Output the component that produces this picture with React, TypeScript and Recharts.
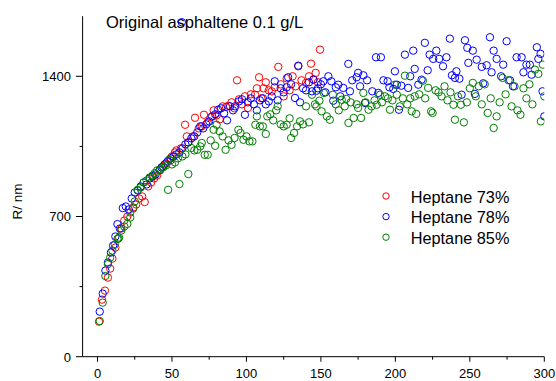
import React from 'react';
import { ScatterChart, Scatter, XAxis, YAxis, Customized } from 'recharts';

const seriesNames = ['Heptane 73%', 'Heptane 78%', 'Heptane 85%'];
const seriesColors = ['#FF0000', '#0000FF', '#008000'];
const titleText = 'Original asphaltene 0.1 g/L';
const yAxisTitle = 'R/ nm';

const xTicks = [0, 25, 50, 75, 100, 125, 150, 175, 200, 225, 250, 275, 300];
const yTicks = [0, 350, 700, 1050, 1400];

const red73: [number, number][] = [
  [1, 175], [3, 285], [5, 330], [7, 395], [8.5, 440], [10, 490], [12, 545], [14, 590], [16, 640], [18, 680],
  [20, 700], [22, 720], [24, 745], [26, 760], [28, 790], [30, 800], [31.7, 772], [34, 850], [36, 870], [38, 890],
  [40, 905], [42, 930], [44, 950], [46, 965], [49, 980], [50, 1000], [52, 1020], [53, 1030], [56, 1040], [58.8, 1158],
  [60, 1100], [61, 1070], [64, 1100], [65.5, 1193], [68, 1140], [70, 1150], [71.5, 1208], [74, 1170], [76, 1195], [78, 1230],
  [80, 1205], [82, 1185], [84, 1250], [86.3, 1247], [87.8, 1253], [90, 1270], [92, 1240], [93.7, 1380], [95, 1285], [97, 1260],
  [99, 1300], [101, 1242], [103, 1310], [105.8, 1308], [107, 1340], [108.5, 1395], [110, 1290], [111.5, 1340], [113, 1370], [115, 1330],
  [117, 1325], [119, 1345], [121.4, 1447], [123, 1360], [125, 1300], [127, 1390], [129, 1330], [131, 1400], [133, 1350], [134.8, 1450],
  [137, 1380], [140, 1367], [142, 1400], [143.4, 1463], [145, 1385], [146.5, 1417], [148, 1370], [149.4, 1533],
];

const blue78: [number, number][] = [
  [1.5, 225], [3.5, 315], [5.3, 430], [7, 470], [9, 520], [10.5, 555], [12, 600], [13.4, 662], [15, 640], [17, 742],
  [19, 750], [21, 735], [23, 790], [25, 820], [27, 830], [29, 850], [31, 870], [33, 860], [35, 890], [37, 900],
  [39, 910], [41.8, 933], [43, 945], [45, 960], [47, 975], [49, 990], [51, 1000], [53, 1010], [55, 1020], [56.6, 1670],
  [57, 1040], [59, 1060], [61, 1070], [63, 1090], [65, 1100], [67, 1120], [69, 1150], [71, 1140], [73, 1160], [75, 1175],
  [77, 1200], [79, 1210], [81, 1233], [83, 1240], [85, 1215], [87, 1180], [89, 1250], [91, 1230], [92.3, 1250], [95, 1275],
  [97, 1285], [99, 1208], [101, 1270], [103, 1290], [105, 1260], [107, 1230], [109, 1280], [111, 1290], [113, 1260], [115, 1275],
  [117, 1300], [119, 1375], [121, 1280], [123, 1340], [125, 1320], [127, 1345], [128, 1395], [130, 1360], [132.6, 1292], [134.8, 1453],
  [136, 1270], [138, 1340], [140, 1330], [142, 1370], [144, 1325], [145, 1383], [147, 1328], [148, 1340], [150, 1360], [151.6, 1375],
  [153, 1320], [155, 1400], [157, 1375], [158.3, 1278], [160, 1345], [161.7, 1358], [163, 1300], [165, 1342], [168.4, 1462], [169.5, 1325],
  [171, 1380], [174, 1395], [175, 1417], [176.3, 1350], [178.5, 1405], [179.6, 1267], [181, 1380], [184.5, 1325], [187, 1495], [188.5, 1317],
  [190.3, 1495], [192, 1380], [194.8, 1375], [196, 1345], [198.6, 1337], [199.7, 1425], [201, 1358], [202.4, 1233], [204, 1353], [206.4, 1508],
  [208.6, 1342], [210, 1400], [212, 1528], [213, 1437], [215.4, 1358], [217.6, 1383], [219.8, 1567], [221.7, 1430], [223, 1508], [225.4, 1487],
  [227.5, 1528], [229.4, 1487], [232, 1450], [234.3, 1495], [236.6, 1588], [238, 1405], [240, 1392], [241, 1425], [243, 1388], [244.5, 1308],
  [246.7, 1580], [248.3, 1542], [249, 1467], [252, 1528], [253.4, 1312], [254.6, 1483], [258, 1447], [259, 1365], [261.3, 1455], [263.5, 1595],
  [264.6, 1420], [266, 1528], [268, 1487], [271, 1400], [272.4, 1458], [274.7, 1575], [277, 1380], [279, 1350], [281.4, 1495], [284.8, 1495],
  [286, 1420], [288, 1458], [290.3, 1458], [291.5, 1408], [295, 1545], [296, 1487], [297.5, 1512], [298.8, 1325], [300, 1200],
];

const green85: [number, number][] = [
  [1.5, 178], [3.5, 270], [5.3, 403], [7, 462], [8.5, 495], [10, 530], [11.6, 560], [13.4, 588], [14.5, 595], [16, 630],
  [18, 650], [20, 663], [22, 695], [24, 740], [25, 775], [27, 833], [29, 845], [31, 870], [33, 880], [35, 895],
  [37, 905], [38.5, 917], [40, 930], [42, 935], [44, 945], [46, 955], [47.4, 833], [48, 983], [50, 960], [52, 970],
  [54, 990], [55, 862], [57, 1000], [59, 1010], [61, 912], [63, 1042], [65, 1030], [67, 1033], [69, 1050], [70, 1067],
  [72, 1008], [74, 1008], [76, 1080], [78, 1133], [79, 1053], [80, 1158], [82, 1125], [84, 1100], [86, 1033], [88, 1080],
  [90, 1058], [92, 1092], [94.6, 1133], [96, 1117], [98, 1083], [100, 1100], [102, 1075], [104, 1075], [106, 1158], [107, 1200],
  [109, 1150], [111, 1150], [113, 1112], [114, 1200], [116, 1210], [118, 1180], [120, 1230], [121, 1250], [123, 1160], [125, 1150],
  [127, 1158], [129, 1190], [130, 1092], [132, 1117], [134, 1150], [136, 1175], [138, 1160], [140, 1250], [142, 1170], [144, 1308],
  [146, 1260], [147, 1250], [149, 1278], [150.5, 1225], [152, 1317], [154, 1200], [156, 1183], [158, 1308], [160, 1260], [162, 1230],
  [164, 1283], [166, 1250], [167, 1287], [168.5, 1167], [170, 1270], [172, 1192], [174, 1260], [175, 1242], [177, 1192], [178.5, 1317],
  [180, 1270], [182, 1233], [184, 1250], [186, 1280], [187.5, 1258], [189.7, 1308], [191, 1270], [193, 1300], [195, 1290], [196.4, 1233],
  [198, 1280], [199.7, 1358], [201, 1308], [203, 1250], [205, 1290], [206.4, 1403], [208, 1260], [210, 1290], [211, 1225], [213, 1300],
  [214, 1212], [216, 1310], [218.5, 1378], [220, 1290], [222, 1342], [224, 1225], [225, 1217], [227, 1330], [229, 1320], [231, 1300],
  [233, 1350], [235, 1280], [237, 1320], [239, 1258], [240, 1183], [242, 1300], [244, 1258], [246, 1170], [248, 1270], [250, 1340],
  [252, 1367], [254, 1300], [256, 1350], [258, 1260], [260, 1360], [262, 1217], [264, 1290], [266, 1142], [268, 1200], [270, 1270],
  [272, 1392], [274, 1310], [276, 1380], [278, 1250], [280, 1350], [282, 1230], [284, 1208], [286, 1340], [288, 1290], [290, 1360],
  [292, 1260], [293.7, 1433], [296, 1412], [297.7, 1175], [299, 1458], [300, 1300],
];

const allSeries = [red73, blue78, green85];

const FONT = '"Liberation Sans", Arial, sans-serif';

const toPoints = (arr: [number, number][]) => arr.map(([x, y]) => ({ x, y }));

const makeShape = (color: string) => (props: any) => {
  const { cx, cy } = props;
  if (cx == null || cy == null) return <g />;
  return <circle cx={cx} cy={cy} r={3.7} fill="none" stroke={color} strokeWidth={1} />;
};

const XTick = (props: any) => {
  const { x, y, payload } = props;
  const v = payload.value;
  const major = v % 50 === 0;
  return (
    <g>
      <line x1={x} y1={y} x2={x} y2={y + (major ? 5 : 3)} stroke="#000" strokeWidth={1} />
      {major && (
        <text x={x} y={y + 21.3} textAnchor="middle" fontSize={13} fontFamily={FONT} fill="#000">
          {v}
        </text>
      )}
    </g>
  );
};

const YTick = (props: any) => {
  const { x, y, payload } = props;
  const v = payload.value;
  const major = v % 700 === 0;
  return (
    <g>
      <line x1={x - (major ? 6.7 : 3)} y1={y} x2={x} y2={y} stroke="#000" strokeWidth={1} />
      {major && (
        <text x={x - 11.6} y={y + 4.8} textAnchor="end" fontSize={13} fontFamily={FONT} fill="#000">
          {v}
        </text>
      )}
    </g>
  );
};

const Overlay = () => (
  <g>
    <text x={106} y={28} fontSize={16.5} fontFamily={FONT} fill="#000">{titleText}</text>
    <text
      x={22}
      y={201.5}
      transform="rotate(-90, 22, 201.5)"
      textAnchor="middle"
      fontSize={13.5}
      fontFamily={FONT}
      fill="#000"
    >
      {yAxisTitle}
    </text>
    {seriesNames.map((name, i) => (
      <g key={name}>
        <circle cx={386} cy={196 + i * 20.6} r={3.2} fill="none" stroke={seriesColors[i]} strokeWidth={1} />
        <text x={410.7} y={202.7 + i * 20.6} fontSize={16.3} fontFamily={FONT} fill="#000">{name}</text>
      </g>
    ))}
  </g>
);

export default function App() {
  return (
    <div style={{ position: 'absolute', left: 0, top: 0, width: 556, height: 381, overflow: 'hidden' }}>
      <ScatterChart width={556} height={381} margin={{ top: 16.2, right: 11.7, bottom: 0, left: 0 }}>
        <XAxis
          type="number"
          dataKey="x"
          domain={[-10, 300]}
          ticks={xTicks}
          interval={0}
          allowDataOverflow
          height={24.3}
          tickSize={0}
          tickMargin={0}
          tickLine={false}
          tick={<XTick />}
          axisLine={{ stroke: '#000', strokeWidth: 1 }}
        />
        <YAxis
          type="number"
          dataKey="y"
          domain={[0, 1700]}
          ticks={yTicks}
          interval={0}
          allowDataOverflow
          width={82.6}
          tickSize={0}
          tickMargin={0}
          tickLine={false}
          tick={<YTick />}
          axisLine={{ stroke: '#000', strokeWidth: 1 }}
        />
        {allSeries.map((s, i) => (
          <Scatter
            key={seriesNames[i]}
            name={seriesNames[i]}
            data={toPoints(s)}
            shape={makeShape(seriesColors[i])}
            isAnimationActive={false}
          />
        ))}
        <Customized component={<Overlay />} />
      </ScatterChart>
    </div>
  );
}
